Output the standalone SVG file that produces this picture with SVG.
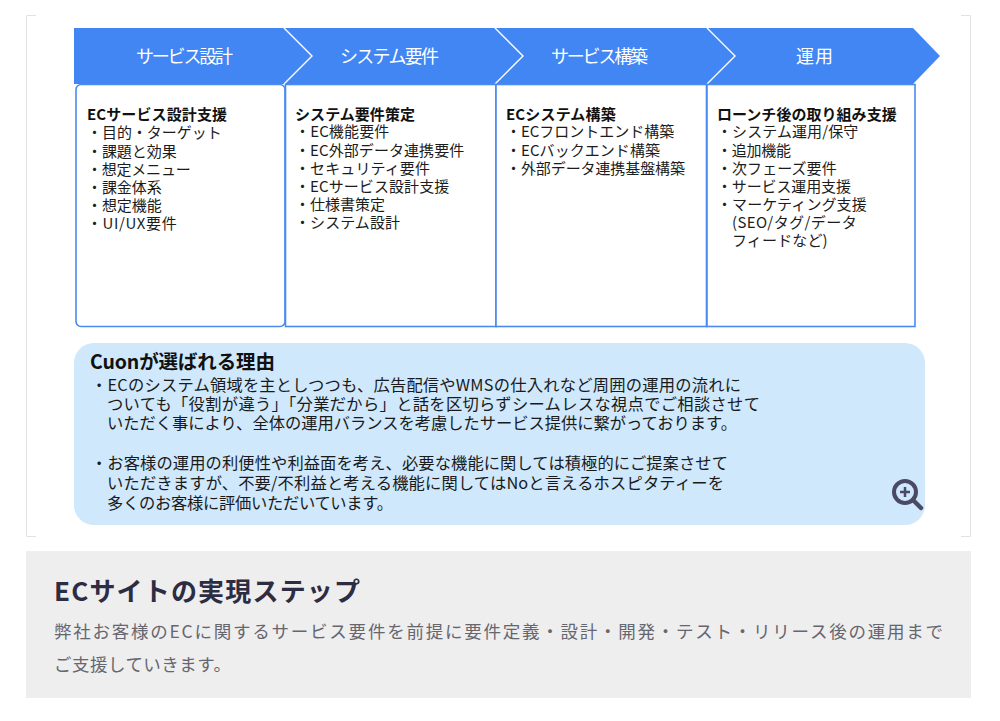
<svg xmlns="http://www.w3.org/2000/svg" width="1000" height="721" viewBox="0 0 1000 721">
<style>
text{font-family:"Noto Sans CJK JP","Noto Sans",sans-serif}
.h{font-size:15px;font-weight:700;fill:#111}
.b{font-size:15px;fill:#1c1c1c}
.t{font-size:18px;fill:#fff}
.r{font-size:16.3px;fill:#1a1a1a}
.box{fill:#fff;stroke:#4a8bee;stroke-width:1.6}
</style>
<rect width="1000" height="721" fill="#fff"/>
<g id="frame" fill="none" stroke="#e2e2e2" stroke-width="1"><path d="M36 15.500H26.500V536.500H36M961 15.500H970.500V536.500H961"/></g>
<g id="chevrons">
<path d="M74 28H913L940 56L913 84H74Z" fill="#4286f4"/>
<path d="M284 28L312 56L284 84M495 28L523 56L495 84M707 28L735 56L707 84" fill="none" stroke="#fff" stroke-width="1.4"/>
<text class="t" x="136" y="62.500" textLength="97">サービス設計</text>
<text class="t" x="340" y="62.500" textLength="99">システム要件</text>
<text class="t" x="551" y="62.500" textLength="97">サービス構築</text>
<text class="t" x="796" y="62.500" textLength="37">運用</text>
</g>
<g id="box1"><rect class="box" x="76" y="84.500" width="209" height="242" rx="5"/>
<text class="h" x="87" y="120" textLength="140">ECサービス設計支援</text>
<text class="b" x="87" y="138" textLength="134.700">・目的・ターゲット</text>
<text class="b" x="87" y="156.500" textLength="89.700">・課題と効果</text>
<text class="b" x="87" y="174.500" textLength="103.700">・想定メニュー</text>
<text class="b" x="87" y="192.500" textLength="74.700">・課金体系</text>
<text class="b" x="87" y="210.500" textLength="74.700">・想定機能</text>
<text class="b" x="87" y="229" textLength="89.700">・UI/UX要件</text>
</g>
<g id="box2"><rect class="box" x="285.500" y="84.500" width="210.500" height="242"/>
<text class="h" x="295" y="119.500" textLength="120">システム要件策定</text>
<text class="b" x="295" y="137" textLength="94.300">・EC機能要件</text>
<text class="b" x="295" y="155.500" textLength="169.300">・EC外部データ連携要件</text>
<text class="b" x="295" y="173.500" textLength="135">・セキュリティ要件</text>
<text class="b" x="295" y="191.500" textLength="154.300">・ECサービス設計支援</text>
<text class="b" x="295" y="209.500" textLength="90">・仕様書策定</text>
<text class="b" x="295" y="228" textLength="105">・システム設計</text>
</g>
<g id="box3"><rect class="box" x="496" y="84.500" width="210.500" height="242"/>
<text class="h" x="506" y="119.500" textLength="109.700">ECシステム構築</text>
<text class="b" x="506" y="137" textLength="168.300">・ECフロントエンド構築</text>
<text class="b" x="506" y="155.500" textLength="154">・ECバックエンド構築</text>
<text class="b" x="506" y="173.500" textLength="179">・外部データ連携基盤構築</text>
</g>
<g id="box4"><rect class="box" x="707" y="84.500" width="208" height="242"/>
<text class="h" x="717" y="119.500" textLength="179.700">ローンチ後の取り組み支援</text>
<text class="b" x="717" y="137" textLength="141.300">・システム運用/保守</text>
<text class="b" x="717" y="155.500" textLength="74">・追加機能</text>
<text class="b" x="717" y="173.500" textLength="119.700">・次フェーズ要件</text>
<text class="b" x="717" y="191.500" textLength="134">・サービス運用支援</text>
<text class="b" x="717" y="209.500" textLength="149.700">・マーケティング支援</text>
<text class="b" x="732" y="228" textLength="124.700">(SEO/タグ/データ</text>
<text class="b" x="732" y="245.500" textLength="95.700">フィードなど)</text>
</g>
<g id="reason"><rect x="74" y="343" width="851" height="182" rx="20" fill="#cfe8fc"/>
<text x="90" y="369" font-size="19.500" font-weight="700" fill="#111" textLength="185">Cuonが選ばれる理由</text>
<text class="r" x="91" y="390.500" textLength="650">・ECのシステム領域を主としつつも、広告配信やWMSの仕入れなど周囲の運用の流れに</text>
<text class="r" x="107" y="409.500" textLength="653">ついても「役割が違う」「分業だから」と話を区切らずシームレスな視点でご相談させて</text>
<text class="r" x="107" y="428.500" textLength="630">いただく事により、全体の運用バランスを考慮したサービス提供に繋がっております。</text>
<text class="r" x="91" y="468.500" textLength="637">・お客様の運用の利便性や利益面を考え、必要な機能に関しては積極的にご提案させて</text>
<text class="r" x="107" y="488.500" textLength="617">いただきますが、不要/不利益と考える機能に関してはNoと言えるホスピタティーを</text>
<text class="r" x="107" y="508.500" textLength="286">多くのお客様に評価いただいています。</text>
</g>
<g id="zoom-icon" fill="none" stroke="#4a4a62"><circle cx="905" cy="492" r="11" stroke-width="4"/><path d="M913 500L921 508" stroke-width="4.500" stroke-linecap="round"/><path d="M900 492H910M905 487V497" stroke-width="2.500"/></g>
<g id="caption"><rect x="26" y="551" width="945" height="147" fill="#eeeeee"/>
<text x="54" y="601" font-size="26px" font-weight="700" fill="#2c2c42" textLength="306">ECサイトの実現ステップ</text>
<text x="54" y="638" font-size="17.500px" fill="#66666e" textLength="889">弊社お客様のECに関するサービス要件を前提に要件定義・設計・開発・テスト・リリース後の運用まで</text>
<text x="54" y="671" font-size="17.500px" fill="#66666e" textLength="177">ご支援していきます。</text>
</g>
</svg>
